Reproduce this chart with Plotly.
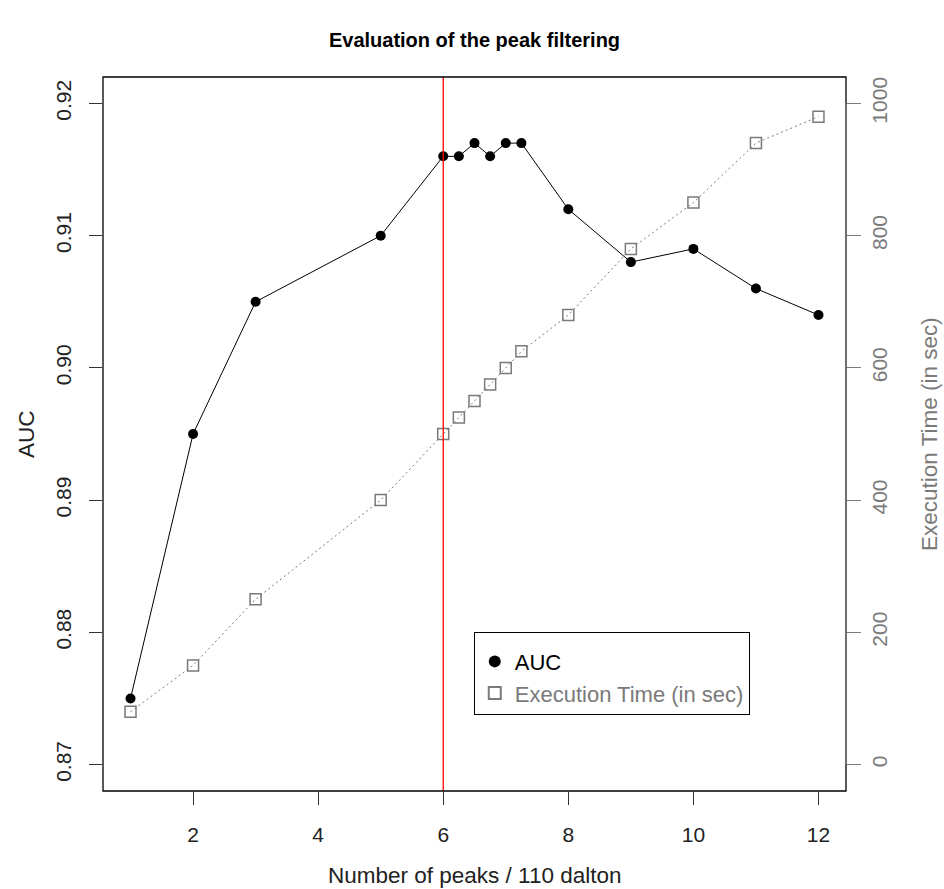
import plotly.graph_objects as go

# peaks per 110 dalton
peaks = [1, 2, 3, 5, 6, 6.25, 6.5, 6.75, 7, 7.25, 8, 9, 10, 11, 12]
auc = [0.875, 0.895, 0.905, 0.910, 0.916, 0.916, 0.917, 0.916, 0.917, 0.917,
       0.912, 0.908, 0.909, 0.906, 0.904]
exec_time = [80, 150, 250, 400, 500, 525, 550, 575, 600, 625,
             680, 780, 850, 940, 980]

x_ticks = [2, 4, 6, 8, 10, 12]
auc_ticks = [0.87, 0.88, 0.89, 0.90, 0.91, 0.92]
time_ticks = [0, 200, 400, 600, 800, 1000]
cutoff = 6

font_family = "Liberation Sans, Arial, sans-serif"
grey = "#7a7a7a"

fig = go.Figure()

# lines (no legend entry, like R's legend with pch only)
fig.add_trace(go.Scatter(x=peaks, y=auc, mode='lines', showlegend=False,
                         line=dict(color='black', width=1), hoverinfo='skip'))
fig.add_trace(go.Scatter(x=peaks, y=exec_time, mode='lines', showlegend=False, yaxis='y2',
                         line=dict(color=grey, width=1, dash='2px,3px'), hoverinfo='skip'))

# points
fig.add_trace(go.Scatter(x=peaks, y=auc, mode='markers', name='AUC', legendgroup='a',
                         marker=dict(symbol='circle', size=10, color='black')))
fig.add_trace(go.Scatter(x=peaks, y=exec_time, mode='markers', yaxis='y2', legendgroup='b',
                         name="<span style='color:%s'>Execution Time (in sec)</span>" % grey,
                         marker=dict(symbol='square-open', size=11, color=grey,
                                     line=dict(width=1.5, color=grey))))

# red cutoff line
fig.add_shape(type='line', xref='x', yref='paper', x0=cutoff, x1=cutoff, y0=0, y1=1,
              line=dict(color='red', width=1.3))
# box around plot
fig.add_shape(type='rect', xref='paper', yref='paper', x0=0, x1=1, y0=0, y1=1,
              line=dict(color='black', width=1.3))
# grey right axis line from 0 to 1000
fig.add_shape(type='line', xref='paper', yref='y2', x0=1, x1=1, y0=0, y1=1000,
              line=dict(color=grey, width=1.3))

fig.update_layout(
    width=944, height=889,
    margin=dict(l=103, r=98, t=77, b=98, autoexpand=False),
    plot_bgcolor='white', paper_bgcolor='white',
    font=dict(family=font_family, size=21, color='#222'),
    title=dict(text='<b>Evaluation of the peak filtering</b>', xref='paper', x=0.5,
               yref='container', y=1 - 40 / 889, yanchor='middle',
               font=dict(size=20, color='black')),
    xaxis=dict(range=[0.56, 12.44], tickvals=x_ticks, ticks='outside', ticklen=13,
               tickcolor='#333', showgrid=False, zeroline=False, showline=False,
               ticklabelstandoff=12, automargin=False),
    yaxis=dict(range=[0.868, 0.922], tickvals=auc_ticks, tickformat='.2f', ticks='outside',
               ticklen=13, tickcolor='#333', tickangle=-90, showgrid=False, zeroline=False,
               showline=False, ticklabelstandoff=10, automargin=False),
    yaxis2=dict(range=[-40, 1040], tickvals=time_ticks, overlaying='y', side='right',
                ticks='outside', ticklen=14, tickcolor=grey, tickangle=-90,
                tickfont=dict(color=grey), showgrid=False, zeroline=False, showline=False,
                ticklabelstandoff=1, automargin=False),
    legend=dict(x=0.499, y=0.223, xanchor='left', yanchor='top', bgcolor='white',
                bordercolor='black', borderwidth=1, tracegroupgap=0,
                title=dict(text=' ', font=dict(size=6)),
                font=dict(size=22, color='black'), itemsizing='constant'),
    annotations=[
        dict(text='Number of peaks / 110 dalton', xref='paper', yref='paper', x=0.5, y=0,
             yshift=-84, showarrow=False, yanchor='middle', font=dict(size=22.5, color='#222')),
        dict(text='AUC', xref='paper', yref='paper', x=0, y=0.5, xshift=-77,
             textangle=-90, showarrow=False, xanchor='center', font=dict(size=22.5, color='#222')),
        dict(text='Execution Time (in sec)', xref='paper', yref='paper', x=1, y=0.5,
             xshift=83, textangle=-90, showarrow=False, xanchor='center',
             font=dict(size=22.5, color=grey)),
    ],
)

fig.write_html("out.html", config={'displayModeBar': False},
               post_script="document.body.style.margin='0';")
